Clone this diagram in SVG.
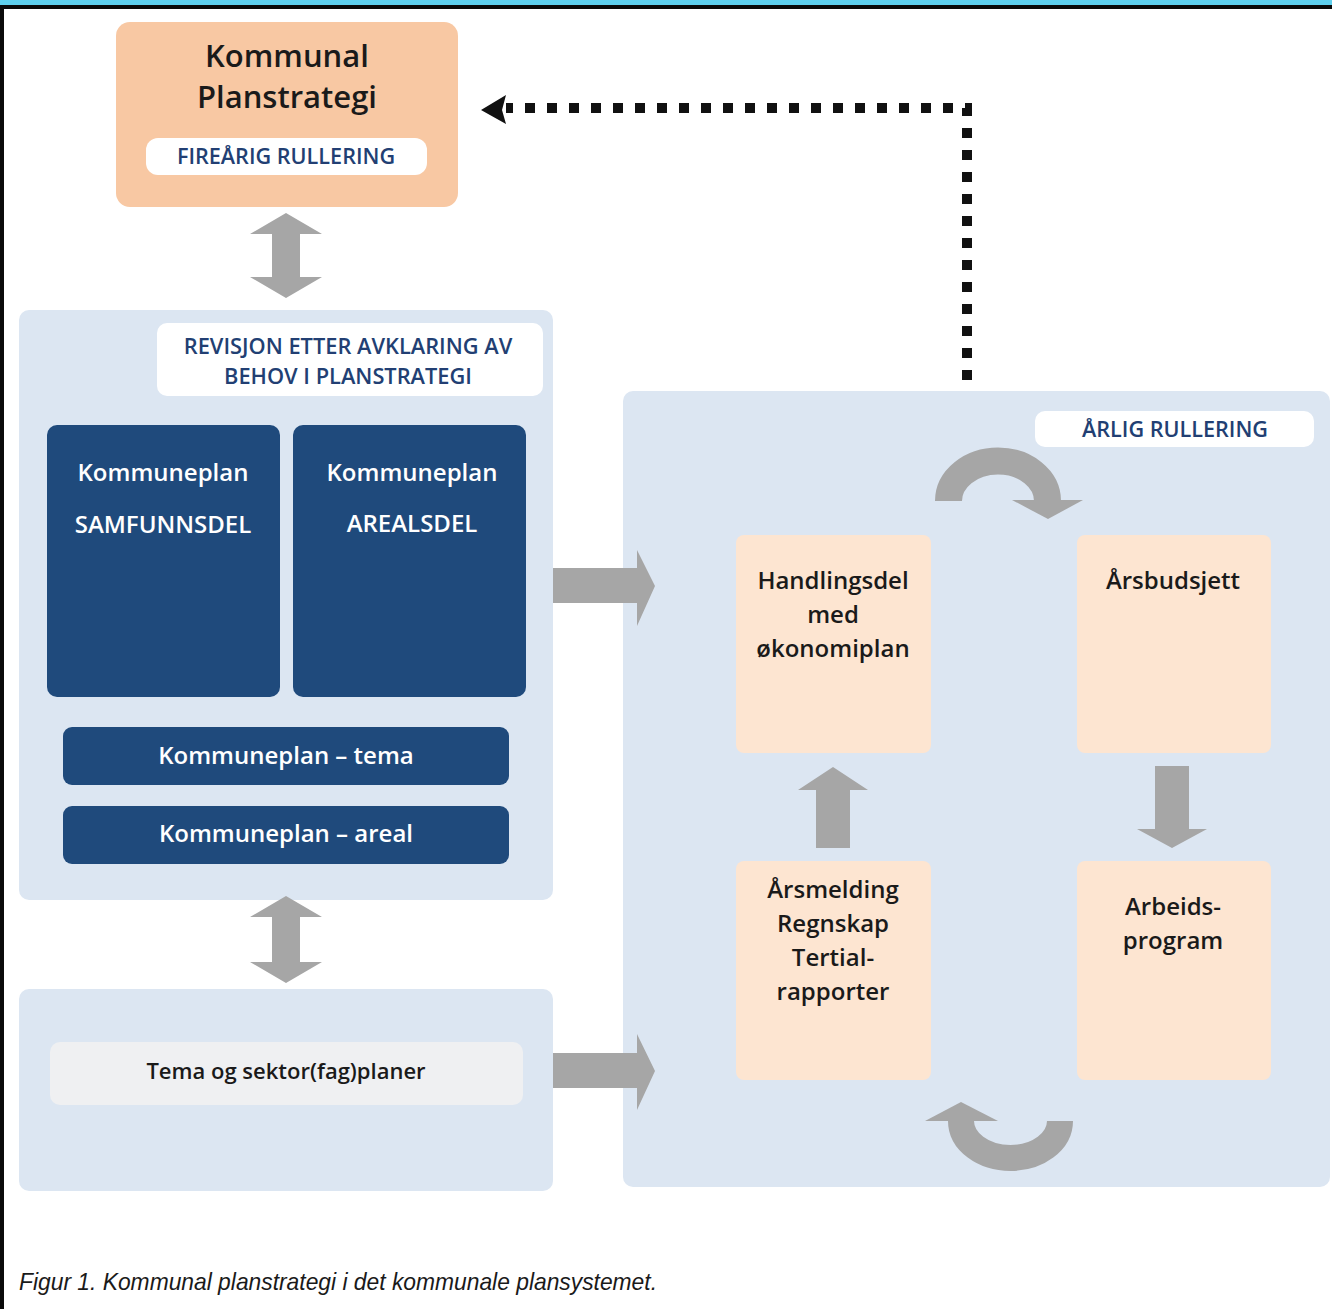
<svg xmlns="http://www.w3.org/2000/svg" width="1332" height="1309" viewBox="0 0 1332 1309">
<style>
.t{font-family:"Open Sans","Noto Sans","Liberation Sans",sans-serif;font-weight:600;text-anchor:middle}
.blk{fill:#1a1a1a}
.wht{fill:#ffffff}
.lbl{fill:#223f73}
.panel{fill:#dce6f2}
.dark{fill:#1f4a7c}
.peach{fill:#fde5d1}
.gray{fill:#a6a6a6}
</style>
<rect x="0" y="0" width="1332" height="1309" fill="#ffffff"/>
<rect x="0" y="0" width="1332" height="5" fill="#5ed0ee"/>
<rect x="0" y="5" width="1332" height="4" fill="#0a0a0a"/>
<rect x="0" y="5" width="4" height="1304" fill="#0a0a0a"/>

<g id="panel-left-top">
<rect class="panel" x="19" y="310" width="534" height="590" rx="10"/>
<rect x="157" y="323" width="386" height="73" rx="10" fill="#ffffff"/>
<text class="t lbl" x="348" y="354" font-size="21.8">REVISJON ETTER AVKLARING AV</text>
<text class="t lbl" x="348" y="384" font-size="21.8">BEHOV I PLANSTRATEGI</text>
</g>
<g id="panel-left-bottom">
<rect class="panel" x="19" y="989" width="534" height="202" rx="10"/>
</g>
<g id="panel-right">
<rect class="panel" x="623" y="391" width="707" height="796" rx="10"/>
<rect x="1035" y="411" width="279" height="36" rx="10" fill="#ffffff"/>
<text class="t lbl" x="1175" y="437" font-size="21.6">ÅRLIG RULLERING</text>
</g>

<g id="kommunal-planstrategi">
<rect x="116" y="22" width="342" height="185" rx="14" fill="#f8c8a3"/>
<text class="t blk" x="287" y="67" font-size="31">Kommunal</text>
<text class="t blk" x="287" y="108" font-size="31">Planstrategi</text>
<rect x="146" y="138" width="281" height="37" rx="12" fill="#ffffff"/>
<text class="t lbl" x="286" y="164" font-size="21.6">FIREÅRIG RULLERING</text>
</g>

<g id="samfunnsdel">
<rect class="dark" x="47" y="425" width="233" height="272" rx="10"/>
<text class="t wht" x="163" y="481" font-size="24">Kommuneplan</text>
<text class="t wht" x="163" y="533" font-size="24">SAMFUNNSDEL</text>
</g>
<g id="arealsdel">
<rect class="dark" x="293" y="425" width="233" height="272" rx="10"/>
<text class="t wht" x="412" y="481" font-size="24">Kommuneplan</text>
<text class="t wht" x="412" y="532" font-size="24">AREALSDEL</text>
</g>
<g id="kommuneplan-tema">
<rect class="dark" x="63" y="727" width="446" height="58" rx="9"/>
<text class="t wht" x="286" y="764" font-size="24">Kommuneplan – tema</text>
</g>
<g id="kommuneplan-areal">
<rect class="dark" x="63" y="806" width="446" height="58" rx="9"/>
<text class="t wht" x="286" y="842" font-size="24">Kommuneplan – areal</text>
</g>
<g id="tema-sektor">
<rect x="50" y="1042" width="473" height="63" rx="10" fill="#eff0f2"/>
<text class="t blk" x="286" y="1079" font-size="22">Tema og sektor(fag)planer</text>
</g>

<g id="handlingsdel">
<rect class="peach" x="736" y="535" width="195" height="218" rx="8"/>
<text class="t blk" x="833" y="589" font-size="24">Handlingsdel</text>
<text class="t blk" x="833" y="623" font-size="24">med</text>
<text class="t blk" x="833" y="657" font-size="24">økonomiplan</text>
</g>
<g id="arsbudsjett">
<rect class="peach" x="1077" y="535" width="194" height="218" rx="8"/>
<text class="t blk" x="1173" y="589" font-size="24">Årsbudsjett</text>
</g>
<g id="arsmelding">
<rect class="peach" x="736" y="861" width="195" height="219" rx="8"/>
<text class="t blk" x="833" y="898" font-size="24">Årsmelding</text>
<text class="t blk" x="833" y="932" font-size="24">Regnskap</text>
<text class="t blk" x="833" y="966" font-size="24">Tertial-</text>
<text class="t blk" x="833" y="1000" font-size="24">rapporter</text>
</g>
<g id="arbeidsprogram">
<rect class="peach" x="1077" y="861" width="194" height="219" rx="8"/>
<text class="t blk" x="1173" y="915" font-size="24">Arbeids-</text>
<text class="t blk" x="1173" y="949" font-size="24">program</text>
</g>

<g id="connectors">
<polygon class="gray" points="286,213 322,234 300,234 300,277 322,277 286,298 250,277 272,277 272,234 250,234"/>
<polygon class="gray" points="286,896 322,917 300,917 300,962 322,962 286,983 250,962 272,962 272,917 250,917"/>
<polygon class="gray" points="553,568 637,568 637,550 655,586 637,626 637,603 553,603"/>
<polygon class="gray" points="553,1053 637,1053 637,1034 655,1071 637,1110 637,1088 553,1088"/>
<polygon class="gray" points="833,767 868,790 850,790 850,848 816,848 816,790 798,790"/>
<polygon class="gray" points="1155,766 1189,766 1189,829 1207,829 1172,848 1137,829 1155,829"/>
<path d="M948.5,501 A49.5,40 0 0 1 1047.5,501" fill="none" stroke="#a6a6a6" stroke-width="27"/>
<polygon class="gray" points="1012,500 1083,500 1048,519"/>
<path d="M961,1121 A49.5,37 0 0 0 1060,1121" fill="none" stroke="#a6a6a6" stroke-width="26"/>
<polygon class="gray" points="925,1121 998,1121 961,1102"/>
<path d="M967,380 V108 H506" fill="none" stroke="#111111" stroke-width="10" stroke-dasharray="10 12"/>
<polygon points="481,110 506,95 502,110 506,124" fill="#111111"/>
</g>

<text x="19" y="1290" font-family="'Liberation Sans',Arial,sans-serif" font-style="italic" font-size="24" fill="#1a1a1a" textLength="638" lengthAdjust="spacingAndGlyphs">Figur 1. Kommunal planstrategi i det kommunale plansystemet.</text>
</svg>
